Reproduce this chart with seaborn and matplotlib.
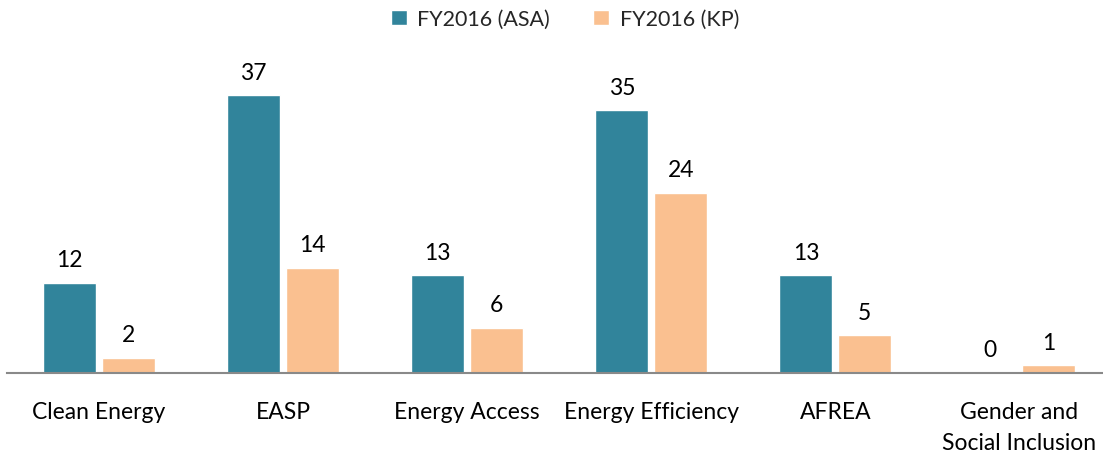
import matplotlib
matplotlib.use("Agg")
import matplotlib.pyplot as plt
import seaborn as sns
import pandas as pd

categories = ["Clean Energy", "EASP", "Energy Access", "Energy Efficiency", "AFREA", "Gender and\nSocial Inclusion"]
series_names = ["FY2016 (ASA)", "FY2016 (KP)"]
asa = [12, 37, 13, 35, 13, 0]
kp = [2, 14, 6, 24, 5, 1]
colors = ["#31849B", "#FAC090"]

df = pd.DataFrame({
    "category": categories * 2,
    "series": [series_names[0]] * len(categories) + [series_names[1]] * len(categories),
    "value": asa + kp,
})

sns.set_theme(style="white")
plt.rcParams["font.family"] = ["Lato", "DejaVu Sans"]

fig = plt.figure(figsize=(11.03, 4.56), dpi=100)
ax = fig.add_axes([7.0 / 1103, 1 - 374 / 456, 1104.5 / 1103, (374 - 40) / 456])

sns.barplot(data=df, x="category", y="value", hue="series", order=categories,
            hue_order=series_names, palette=colors, width=0.64, gap=0.1,
            saturation=1, ax=ax, legend=True)

ax.set_ylim(0, 334 / 7.51)
ax.set_xlim(-0.5, len(categories) - 0.5)
for c in ax.containers:
    ax.bar_label(c, fmt="%d", padding=9, fontsize=16.5, color="#000000")

ax.set_xlabel("")
ax.set_ylabel("")
ax.set_yticks([])
ax.tick_params(axis="x", length=0, labelsize=16.5, pad=20, colors="#000000")
for lbl in ax.get_xticklabels():
    lbl.set_linespacing(1.6)
for s in ["top", "right", "left"]:
    ax.spines[s].set_visible(False)
ax.spines["bottom"].set_color("#898989")
ax.spines["bottom"].set_linewidth(1.5)

leg = ax.legend(loc="center", bbox_to_anchor=(565 / 1103, 1 - 20 / 456),
                bbox_transform=fig.transFigure, ncol=2, frameon=False,
                fontsize=15.5, handlelength=0.75, handleheight=0.75,
                handletextpad=0.5, columnspacing=2.0)

fig.savefig("out.png", dpi=100)
